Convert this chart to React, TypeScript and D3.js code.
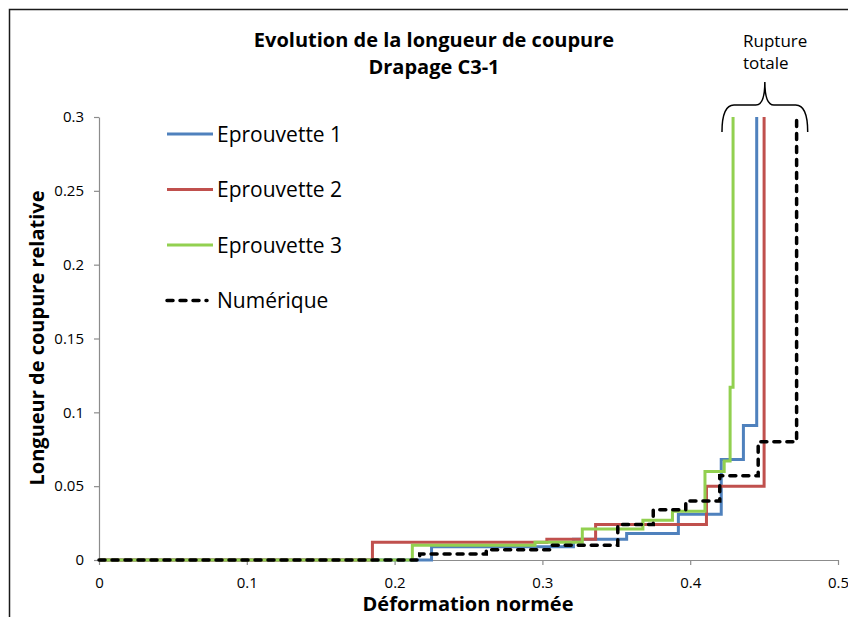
import React, { useEffect, useRef } from "react";
import * as d3 from "d3";

// valeurs (x = déformation normée, y = longueur relative)
const ep1X = [0, 0.225, 0.321, 0.357, 0.392, 0.421, 0.436, 0.445];
const ep1Y = [0, 0.009, 0.014, 0.018, 0.031, 0.068, 0.091, 0.3];
const ep2X = [0, 0.185, 0.303, 0.336, 0.411, 0.45];
const ep2Y = [0, 0.012, 0.014, 0.024, 0.05, 0.3];
const ep3X = [0, 0.212, 0.295, 0.327, 0.368, 0.388, 0.41, 0.423, 0.427, 0.429];
const ep3Y = [0, 0.01, 0.012, 0.021, 0.027, 0.033, 0.06, 0.067, 0.117, 0.3];
const numX = [0, 0.217, 0.262, 0.306, 0.351, 0.375, 0.397, 0.42, 0.446, 0.472];
const numY = [0, 0.004, 0.007, 0.01, 0.024, 0.034, 0.04, 0.057, 0.08, 0.3];

const seriesNames = ["Eprouvette 1", "Eprouvette 2", "Eprouvette 3", "Numérique"];
const xTicks = [0, 0.1, 0.2, 0.3, 0.4, 0.5];
const xTickLabels = ["0", "0.1", "0.2", "0.3", "0.4", "0.5"];
const yTicks = [0, 0.05, 0.1, 0.15, 0.2, 0.25, 0.3];
const yTickLabels = ["0", "0.05", "0.1", "0.15", "0.2", "0.25", "0.3"];

const FONT = "'Open Sans', 'Noto Sans', sans-serif";

export default function App() {
  const svgRef = useRef<SVGSVGElement | null>(null);

  useEffect(() => {
    if (!svgRef.current) return;
    const width = 848, height = 617;
    const svg = d3.select(svgRef.current);
    svg.selectAll("*").remove();

    const x = d3.scaleLinear().domain([0, 0.5]).range([99, 838]);
    const y = d3.scaleLinear().domain([0, 0.3]).range([560, 117]);

    svg.append("rect").attr("width", width).attr("height", height).attr("fill", "white");
    // cadre du graphique (coupé à droite et en bas)
    svg.append("rect")
      .attr("x", 9.5).attr("y", 9.5)
      .attr("width", 860).attr("height", 640)
      .attr("fill", "none").attr("stroke", "#1a1a1a").attr("stroke-width", 1.5);

    // axes
    const xAxis = svg.append("g")
      .attr("transform", `translate(0,${y(0)})`)
      .call(d3.axisBottom(x).tickValues(xTicks)
        .tickFormat((_, i) => xTickLabels[i])
        .tickSize(5).tickSizeOuter(0).tickPadding(12));
    const yAxis = svg.append("g")
      .attr("transform", `translate(${x(0)},0)`)
      .call(d3.axisLeft(y).tickValues(yTicks)
        .tickFormat((_, i) => yTickLabels[i])
        .tickSize(5).tickSizeOuter(0).tickPadding(10));
    [xAxis, yAxis].forEach(a => {
      a.select(".domain").attr("stroke", "#8c8c8c").attr("stroke-width", 1.2);
      a.selectAll(".tick line").attr("stroke", "#8c8c8c").attr("stroke-width", 1.2);
      a.selectAll(".tick text")
        .attr("fill", "#000")
        .style("font-family", FONT)
        .style("font-size", "15px");
    });

    const line = d3.line<[number, number]>()
      .x(d => x(d[0]))
      .y(d => y(d[1]))
      .curve(d3.curveStepAfter);

    const series = [
      { xs: ep1X, ys: ep1Y, color: "#4F81BD", dash: null },
      { xs: ep2X, ys: ep2Y, color: "#C0504D", dash: null },
      { xs: ep3X, ys: ep3Y, color: "#92D050", dash: null },
      { xs: numX, ys: numY, color: "#000000", dash: "6,7" },
    ];

    series.forEach(s => {
      const pts = s.xs.map((v, i) => [v, s.ys[i]] as [number, number]);
      svg.append("path")
        .attr("d", line(pts))
        .attr("fill", "none")
        .attr("stroke", s.color)
        .attr("stroke-width", s.dash ? 3.5 : 3)
        .attr("stroke-linecap", s.dash ? "round" : "butt")
        .attr("stroke-dasharray", s.dash);
    });

    // légende
    const legend = svg.append("g");
    series.forEach((s, i) => {
      const ly = 134 + i * 55.5;
      legend.append("line")
        .attr("x1", 167).attr("x2", s.dash ? 207 : 213)
        .attr("y1", ly).attr("y2", ly)
        .attr("stroke", s.color)
        .attr("stroke-width", s.dash ? 3.5 : 3)
        .attr("stroke-linecap", s.dash ? "round" : "butt")
        .attr("stroke-dasharray", s.dash);
      legend.append("text")
        .attr("x", 217).attr("y", ly + 7.5)
        .style("font-family", FONT).style("font-size", "21px")
        .attr("fill", "#000")
        .text(seriesNames[i]);
    });

    // titres
    const title = svg.append("text")
      .attr("text-anchor", "middle")
      .style("font-family", FONT).style("font-size", "20px").style("font-weight", "bold");
    title.append("tspan").attr("x", 434).attr("y", 47).text("Evolution de la longueur de coupure");
    title.append("tspan").attr("x", 434).attr("y", 74).text("Drapage C3-1");

    svg.append("text")
      .attr("x", 468).attr("y", 611)
      .attr("text-anchor", "middle")
      .style("font-family", FONT).style("font-size", "20px").style("font-weight", "bold")
      .text("Déformation normée");

    svg.append("text")
      .attr("transform", `translate(44,338) rotate(-90)`)
      .attr("text-anchor", "middle")
      .style("font-family", FONT).style("font-size", "20px").style("font-weight", "bold")
      .text("Longueur de coupure relative");

    // annotation rupture totale
    const bl = x(0.4215), br = x(0.4795), bm = (bl + br) / 2;
    const yb = y(0.3) + 15, yh = y(0.3) - 12, yt = y(0.3) - 35;
    svg.append("path")
      .attr("d", `M${bl},${yb} Q${bl},${yh} ${bl + 12},${yh} L${bm - 9},${yh} Q${bm},${yh} ${bm},${yt} Q${bm},${yh} ${bm + 9},${yh} L${br - 12},${yh} Q${br},${yh} ${br},${yb}`)
      .attr("fill", "none").attr("stroke", "#000").attr("stroke-width", 1.5);
    const ann = svg.append("text")
      .style("font-family", FONT).style("font-size", "17px").attr("fill", "#000");
    ann.append("tspan").attr("x", 743).attr("y", 47).text("Rupture");
    ann.append("tspan").attr("x", 743).attr("y", 69).text("totale");
  }, []);

  return (
    <svg
      ref={svgRef}
      width={848}
      height={617}
      style={{ position: "absolute", left: 0, top: 0, display: "block" }}
    />
  );
}
